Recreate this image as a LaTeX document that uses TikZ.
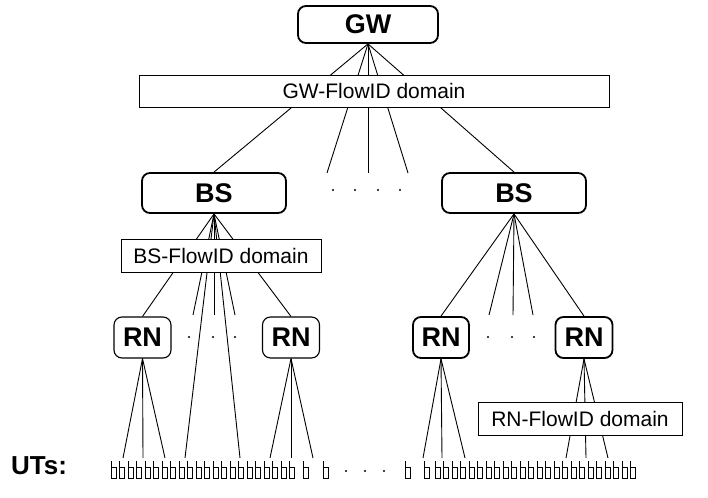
\documentclass[tikz,border=0pt]{standalone}
\usepackage{fontspec}
\setmainfont{Liberation Sans}
\begin{document}
\begin{tikzpicture}[x=1pt,y=-1pt,
  thickbox/.style={draw, line width=1.8pt, rounded corners=8pt, inner sep=0pt,
    font=\bfseries\fontsize{27}{29}\selectfont},
  thinbox/.style={draw, line width=1.1pt, rounded corners=8pt, inner sep=0pt,
    font=\bfseries\fontsize{27}{29}\selectfont},
  domainbox/.style={draw, line width=0.8pt, fill=white, inner sep=0pt,
    font=\fontsize{21}{23}\selectfont},
  conn/.style={line width=0.9pt},
  dotmark/.style={fill=black, draw=none},
  utmark/.style={line width=0.75pt}
]
\useasboundingbox (0,0) rectangle (708,497);

% main nodes
\node[thickbox, minimum width=140pt, minimum height=37pt] (gw) at (368,24.5) {GW};
\node[thickbox, minimum width=144pt, minimum height=40pt] (bs1) at (214,193) {BS};
\node[thickbox, minimum width=144pt, minimum height=40pt] (bs2) at (514,193) {BS};
\node[thinbox, minimum width=57pt, minimum height=41pt] (rn1) at (142.5,337.5) {RN};
\node[thinbox, minimum width=57pt, minimum height=41pt] (rn2) at (291,337.5) {RN};
\node[thickbox, minimum width=56pt, minimum height=41pt] (rn3) at (441,337.5) {RN};
\node[thickbox, minimum width=57pt, minimum height=41pt] (rn4) at (584,337.5) {RN};

% free ends of connectors
\coordinate (g1) at (327,173);
\coordinate (g2) at (368,173);
\coordinate (g3) at (408,173);

\coordinate (b1) at (193,315);
\coordinate (b2) at (214,315);
\coordinate (b3) at (235,315);
\coordinate (b4) at (185,458);
\coordinate (b5) at (240,458);

\coordinate (c1) at (489,315);
\coordinate (c2) at (513,315);
\coordinate (c3) at (533,315);

\coordinate (r11) at (123,458);
\coordinate (r12) at (143,458);
\coordinate (r13) at (165,458);
\coordinate (r21) at (270,458);
\coordinate (r22) at (291,458);
\coordinate (r23) at (313,458);
\coordinate (r31) at (423,458);
\coordinate (r32) at (442,458);
\coordinate (r33) at (465,458);
\coordinate (r41) at (566,458);
\coordinate (r42) at (586,458);
\coordinate (r43) at (608,458);

% connectors
\foreach \t in {bs1.north,g1,g2,g3,bs2.north} \draw[conn] (gw.south) -- (\t);
\foreach \t in {rn1.north,b1,b2,b3,b4,b5,rn2.north} \draw[conn] (bs1.south) -- (\t);
\foreach \t in {rn3.north,c1,c2,c3,rn4.north} \draw[conn] (bs2.south) -- (\t);
\foreach \t in {r11,r12,r13} \draw[conn] (rn1.south) -- (\t);
\foreach \t in {r21,r22,r23} \draw[conn] (rn2.south) -- (\t);
\foreach \t in {r31,r32,r33} \draw[conn] (rn3.south) -- (\t);
\foreach \t in {r41,r42,r43} \draw[conn] (rn4.south) -- (\t);

% domain boxes (over the connectors)
\node[domainbox, minimum width=470pt, minimum height=32pt] (gwdom) at (374,91) {GW-FlowID domain};
\node[domainbox, minimum width=200pt, minimum height=33pt] (bsdom) at (221,255.5) {BS-FlowID domain};
\node[domainbox, minimum width=204pt, minimum height=33pt] (rndom) at (580,418.5) {RN-FlowID domain};

% ellipsis dots
\foreach \x in {333,355,378,400} \fill[dotmark] (\x,190) circle (1.1pt);
\foreach \x in {189,213,235} \fill[dotmark] (\x,337) circle (1.1pt);
\foreach \x in {488,512,534} \fill[dotmark] (\x,337) circle (1.1pt);
\foreach \x in {346,365,384} \fill[dotmark] (\x,471) circle (1.1pt);

% UTs label
\node[font=\bfseries\fontsize{26}{28}\selectfont, inner sep=0pt] (utlabel) at (39,466) {UTs:};

% user terminals
\foreach \i in {0,...,21} {
  \pgfmathsetmacro{\ux}{111+8.5*\i}
  \draw[utmark] (\ux,461) -- (\ux,478) -- (\ux+5,478) -- (\ux+5,467) -- (\ux,467);
}
\foreach \ux in {303,323,405,424} {
  \draw[utmark] (\ux,461) -- (\ux,478) -- (\ux+5,478) -- (\ux+5,467) -- (\ux,467);
}
\foreach \i in {0,...,23} {
  \pgfmathsetmacro{\ux}{435+8.5*\i}
  \draw[utmark] (\ux,461) -- (\ux,478) -- (\ux+5,478) -- (\ux+5,467) -- (\ux,467);
}
\end{tikzpicture}
\end{document}
